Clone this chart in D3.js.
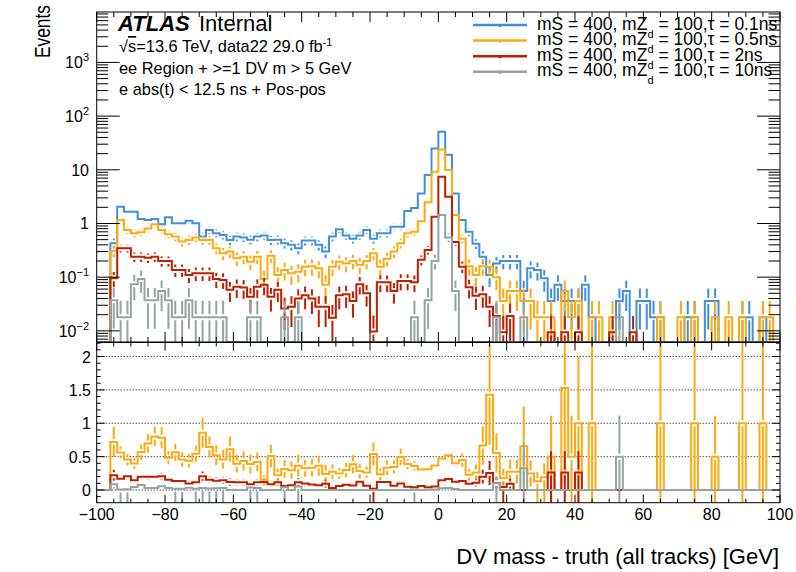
<!DOCTYPE html>
<html>
<head>
<meta charset="utf-8">
<script src="https://cdn.jsdelivr.net/npm/d3@7/dist/d3.min.js"></script>
<style>
  body { margin: 0; background: #fff; }
  svg { display: block; font-family: "Liberation Sans", Arial, Helvetica, sans-serif; }
</style>
</head>
<body>
<svg id="chart" width="796" height="572"></svg>
<script>
// binning of the DV mass - truth histograms (GeV)
const binLow = -100;
const binWidth = 2;

// bin contents, 100 bins from -100 to 100
const tau01 = [
  0, 0, 0.43, 2.06, 1.66, 1.66, 1.21, 1.16, 1.21, 0.97,
  1.3, 1.01, 1.01, 1.12, 1.01, 0.57, 0.76, 0.66, 0.61, 0.49,
  0.57, 0.55, 0.5, 0.57, 0.6, 0.49, 0.5, 0.43, 0.4, 0.345,
  0.48, 0.48, 0.4, 0.3, 0.57, 0.78, 0.6, 0.52, 0.6, 0.76,
  0.52, 0.66, 0.66, 0.87, 0.87, 1.7, 1.95, 3.6, 8, 25,
  51, 19, 3.6, 1.16, 0.7, 0.42, 0.24, 0.11, 0.18, 0.2,
  0.2, 0.2, 0.055, 0.146, 0.136, 0.095, 0.036, 0.072, 0.036, 0.036,
  0.036, 0.072, 0.018, 0, 0, 0, 0.036, 0.055, 0, 0.036,
  0.036, 0.018, 0.018, 0, 0, 0, 0.018, 0.018, 0, 0.036,
  0.036, 0, 0, 0, 0.018, 0.018, 0, 0.018, 0, 0
];
const tau05 = [
  0, 0, 0.31, 1.16, 0.76, 0.66, 0.69, 0.81, 0.97, 0.76,
  0.63, 0.57, 0.46, 0.49, 0.55, 0.49, 0.49, 0.345, 0.28, 0.3,
  0.225, 0.24, 0.194, 0.24, 0.092, 0.25, 0.11, 0.136, 0.118, 0.126,
  0.157, 0.16, 0.146, 0.072, 0.157, 0.194, 0.18, 0.2, 0.17, 0.2,
  0.28, 0.157, 0.22, 0.3, 0.43, 0.66, 0.7, 1.1, 2.5, 9.2,
  24, 9.9, 1.44, 0.52, 0.16, 0.11, 0.16, 0.157, 0.1, 0.036,
  0.055, 0.055, 0.036, 0.036, 0.018, 0.018, 0.018, 0, 0.055, 0.018,
  0.036, 0, 0.018, 0.018, 0, 0.018, 0, 0, 0, 0,
  0, 0, 0.018, 0, 0, 0.018, 0, 0.018, 0, 0,
  0.018, 0, 0.018, 0, 0.018, 0, 0, 0.018, 0.018, 0
];
const tau2 = [
  0, 0, 0.095, 0.345, 0.345, 0.24, 0.24, 0.23, 0.24, 0.2,
  0.2, 0.136, 0.136, 0.11, 0.118, 0.118, 0.118, 0.092, 0.089, 0.058,
  0.066, 0.064, 0.043, 0.066, 0.072, 0.043, 0.058, 0.026, 0.028, 0.04,
  0.046, 0.04, 0.028, 0.028, 0.0176, 0.046, 0.048, 0.036, 0.074, 0.05,
  0.0097, 0.08, 0.08, 0.055, 0.085, 0.085, 0.08, 0.21, 0.32, 1.33,
  7.4, 3.16, 0.45, 0.157, 0.065, 0.045, 0.048, 0.028, 0.019, 0.0094,
  0.019, 0, 0, 0, 0, 0, 0.0094, 0, 0.0094, 0,
  0.0094, 0, 0, 0, 0, 0.0094, 0, 0, 0.0094, 0,
  0, 0, 0, 0, 0, 0, 0, 0, 0, 0,
  0, 0, 0, 0, 0, 0, 0, 0, 0, 0
];
const tau10 = [
  0, 0, 0.037, 0.018, 0.018, 0.074, 0.092, 0.037, 0.037, 0.055,
  0.037, 0.018, 0.018, 0.037, 0.018, 0.018, 0.018, 0.018, 0.018, 0,
  0, 0, 0.018, 0.018, 0, 0, 0, 0.018, 0, 0.018,
  0, 0, 0, 0, 0, 0, 0, 0, 0, 0,
  0, 0, 0, 0, 0, 0, 0.018, 0, 0.037, 0.2,
  1.44, 0.55, 0.055, 0, 0, 0, 0, 0, 0.018, 0,
  0, 0, 0.018, 0, 0, 0, 0, 0, 0, 0,
  0, 0, 0, 0, 0, 0, 0.018, 0, 0, 0,
  0, 0, 0, 0, 0, 0, 0, 0, 0, 0,
  0, 0, 0, 0, 0, 0, 0, 0, 0, 0
];

// weight of a single MC event per sample (sets the sqrt(sumw2) errors)
const eventWeight = [0.018, 0.018, 0.0094, 0.0184];
const tauLabels = ['0.1ns', '0.5ns', '2ns', '10ns'];
const colors = ['#3f90da', '#ffa90e', '#bd1f01', '#94a4a2'];

const samples = [tau01, tau05, tau2, tau10].map((values, k) => ({
  values: values,
  weight: eventWeight[k],
  tau: tauLabels[k],
  color: colors[k]
}));

const svg = d3.select('#chart');

// frame geometry
const left = 96.7, right = 780;
const mainTop = 12, mainBottom = 342;
const ratioTop = 342.5, ratioBottom = 502.7;

const x = d3.scaleLinear().domain([-100, 100]).range([left, right]);
const y = d3.scaleLog().domain([0.0062, 8700]).range([mainBottom, mainTop]);
const yr = d3.scaleLinear().domain([-0.19, 2.21]).range([ratioBottom, ratioTop]);

const defs = svg.append('defs');
defs.append('clipPath').attr('id', 'clip-main')
  .append('rect').attr('x', left).attr('y', mainTop)
  .attr('width', right - left).attr('height', mainBottom - mainTop);
defs.append('clipPath').attr('id', 'clip-ratio')
  .append('rect').attr('x', left).attr('y', ratioTop)
  .attr('width', right - left).attr('height', ratioBottom - ratioTop);

function binPoints(values) {
  const pts = values.map((v, i) => ({ x: binLow + i * binWidth, v: v }));
  pts.push({ x: binLow + values.length * binWidth, v: values[values.length - 1] });
  return pts;
}

// zero bins sit on the frame bottom in log scale
const yMainPos = v => (v > y.domain()[0] ? y(v) : mainBottom);

const mainLine = d3.line()
  .x(d => x(d.x))
  .y(d => yMainPos(d.v))
  .curve(d3.curveStepAfter);

const ratioLine = d3.line()
  .x(d => x(d.x))
  .y(d => yr(Math.min(d.v, 2.4)))
  .curve(d3.curveStepAfter);

const gap = 3;

function drawErrors(g, bars, yPos, bottom, color) {
  bars.forEach(b => {
    const cx = x(binLow + (b.i + 0.5) * binWidth);
    const yc = yPos(b.v);
    const yHi = yPos(b.v + b.e);
    const yLo = b.v - b.e > 0 ? yPos(b.v - b.e) : bottom;
    if (yc - gap > yHi) {
      g.append('line').attr('x1', cx).attr('x2', cx)
        .attr('y1', yHi).attr('y2', yc - gap)
        .attr('stroke', color).attr('stroke-width', 2);
    }
    if (Math.min(yLo, bottom) > yc + gap) {
      g.append('line').attr('x1', cx).attr('x2', cx)
        .attr('y1', yc + gap).attr('y2', Math.min(yLo, bottom))
        .attr('stroke', color).attr('stroke-width', 2);
    }
  });
}

// ---- main panel ----
const gMain = svg.append('g').attr('clip-path', 'url(#clip-main)');
samples.forEach(s => {
  const bars = s.values
    .map((v, i) => ({ i: i, v: v, e: Math.sqrt(v * s.weight) }))
    .filter(b => b.v > 0);
  drawErrors(gMain, bars, yMainPos, mainBottom, s.color);
  gMain.append('path')
    .datum(binPoints(s.values))
    .attr('fill', 'none')
    .attr('stroke', s.color)
    .attr('stroke-width', 2)
    .attr('d', mainLine);
});

// ---- ratio panel (sample / tau = 0.1ns) ----
const gRatio = svg.append('g').attr('clip-path', 'url(#clip-ratio)');
[0, 0.5, 1, 1.5, 2].forEach(v => {
  gRatio.append('line')
    .attr('x1', left).attr('x2', right)
    .attr('y1', yr(v)).attr('y2', yr(v))
    .attr('stroke', '#000').attr('stroke-width', 1)
    .attr('stroke-dasharray', '1,2');
});

const ref = samples[0];
samples.slice(1).forEach(s => {
  const ratio = s.values.map((a, i) => {
    const b = ref.values[i];
    if (b <= 0) return { i: i, v: 0, e: 0 };
    const ea2 = a * s.weight, eb2 = b * ref.weight;
    return { i: i, v: a / b, e: Math.sqrt(ea2 * b * b + eb2 * a * a) / (b * b) };
  });
  drawErrors(gRatio, ratio.filter(r => r.v > 0 && r.e > 0), yr, ratioBottom, s.color);
  gRatio.append('path')
    .datum(binPoints(ratio.map(r => r.v)))
    .attr('fill', 'none')
    .attr('stroke', s.color)
    .attr('stroke-width', 2)
    .attr('d', ratioLine);
});

// ---- frames and ticks ----
const axes = svg.append('g').attr('stroke', '#000').attr('stroke-width', 1);
axes.append('rect').attr('x', left).attr('y', mainTop)
  .attr('width', right - left).attr('height', mainBottom - mainTop).attr('fill', 'none');
axes.append('rect').attr('x', left).attr('y', ratioTop)
  .attr('width', right - left).attr('height', ratioBottom - ratioTop).attr('fill', 'none');

function xTicks(top, bottom, majorLen, minorLen) {
  d3.range(-100, 100.1, 5).forEach(v => {
    const len = v % 20 === 0 ? majorLen : minorLen;
    axes.append('line').attr('x1', x(v)).attr('x2', x(v))
      .attr('y1', bottom).attr('y2', bottom - len);
    axes.append('line').attr('x1', x(v)).attr('x2', x(v))
      .attr('y1', top).attr('y2', top + len);
  });
}
xTicks(mainTop, mainBottom, 10, 5);
xTicks(ratioTop, ratioBottom, 8, 4);

// log ticks on the main panel
const [yMin, yMax] = y.domain();
for (let k = -3; k <= 3; k++) {
  for (let m = 1; m <= 9; m++) {
    const v = m * Math.pow(10, k);
    if (v < yMin || v > yMax) continue;
    const len = m === 1 ? 23 : 11.5;
    axes.append('line').attr('x1', left).attr('x2', left + len)
      .attr('y1', y(v)).attr('y2', y(v));
    axes.append('line').attr('x1', right).attr('x2', right - len)
      .attr('y1', y(v)).attr('y2', y(v));
  }
}

// ratio y ticks
d3.range(-1, 23).forEach(n => {
  const v = n / 10;
  const len = n % 5 === 0 ? 8 : 4;
  axes.append('line').attr('x1', left).attr('x2', left + len)
    .attr('y1', yr(v)).attr('y2', yr(v));
  axes.append('line').attr('x1', right).attr('x2', right - len)
    .attr('y1', yr(v)).attr('y2', yr(v));
});

// ---- tick labels ----
const labels = svg.append('g').attr('fill', '#000').style('font-size', '16px');

const decadeLabels = [
  { v: 0.01, base: '10', exp: '\u22122' },
  { v: 0.1, base: '10', exp: '\u22121' },
  { v: 1, base: '1', exp: '' },
  { v: 10, base: '10', exp: '' },
  { v: 100, base: '10', exp: '2' },
  { v: 1000, base: '10', exp: '3' }
];
decadeLabels.forEach(d => {
  const t = labels.append('text')
    .attr('x', 89).attr('y', y(d.v) + 6)
    .attr('text-anchor', 'end');
  t.append('tspan').text(d.base);
  if (d.exp) {
    t.append('tspan').attr('dy', -7).style('font-size', '11px').text(d.exp);
  }
});

[0, 0.5, 1, 1.5, 2].forEach(v => {
  labels.append('text')
    .attr('x', 91).attr('y', yr(v) + 6)
    .attr('text-anchor', 'end')
    .text(d3.format('~g')(v));
});

d3.range(-100, 100.1, 20).forEach(v => {
  labels.append('text')
    .attr('x', x(v)).attr('y', 520)
    .attr('text-anchor', 'middle')
    .text(v < 0 ? '\u2212' + Math.abs(v) : v);
});

// axis titles
svg.append('text')
  .attr('x', 779).attr('y', 564)
  .attr('text-anchor', 'end')
  .style('font-size', '22px')
  .text('DV mass - truth (all tracks) [GeV]');

svg.append('text')
  .attr('transform', 'translate(50,5) rotate(-90)')
  .attr('text-anchor', 'end')
  .attr('textLength', 53)
  .attr('lengthAdjust', 'spacingAndGlyphs')
  .style('font-size', '22px')
  .text('Events');

// ---- ATLAS label and selection text ----
svg.append('text')
  .attr('x', 118).attr('y', 30.5)
  .style('font-size', '22px').style('font-weight', 'bold').style('font-style', 'italic')
  .text('ATLAS');
svg.append('text')
  .attr('x', 199).attr('y', 30.5)
  .style('font-size', '22px')
  .text('Internal');

const info = svg.append('g').style('font-size', '16.4px');
const lumi = info.append('text').attr('x', 119).attr('y', 52);
lumi.append('tspan').text('\u221A');
lumi.append('tspan').style('text-decoration', 'overline').text('s');
lumi.append('tspan').text('=13.6 TeV, data22 29.0 fb');
lumi.append('tspan').attr('dy', -6).style('font-size', '11px').text('-1');
info.append('text').attr('x', 119).attr('y', 74).text('ee Region + >=1 DV m > 5 GeV');
info.append('text').attr('x', 119).attr('y', 94.5).text('e abs(t) < 12.5 ns + Pos-pos');

// ---- legend ----
const legend = svg.append('g');
samples.forEach((s, k) => {
  const ly = 25 + 15.6 * k;
  legend.append('line')
    .attr('x1', 473).attr('x2', 527)
    .attr('y1', ly).attr('y2', ly)
    .attr('stroke', s.color).attr('stroke-width', 2.5);
  legend.append('rect')
    .attr('x', 498.5).attr('y', ly - 1).attr('width', 3).attr('height', 3)
    .attr('fill', s.color);
  const t = legend.append('text')
    .attr('x', 537).attr('y', ly + 4.5)
    .style('font-size', '17.5px');
  t.append('tspan').text('mS = 400, mZ');
  t.append('tspan').attr('dy', 8).style('font-size', '11px').text('d');
  t.append('tspan').attr('dy', -8).text(' = 100,\u03C4 = ' + s.tau);
});
</script>
</body>
</html>
